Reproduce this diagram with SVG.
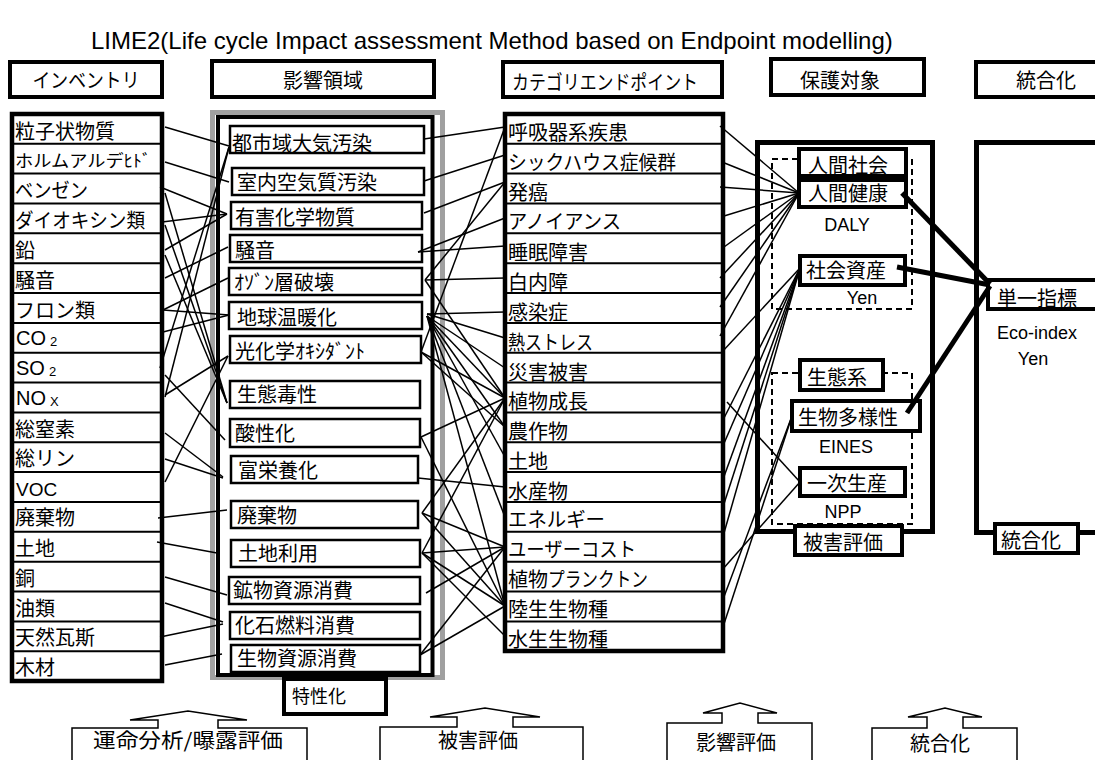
<svg xmlns="http://www.w3.org/2000/svg" width="1095" height="760" viewBox="0 0 1095 760">
  <style>
    text { font-family: "Noto Sans CJK JP", "Liberation Sans", sans-serif; font-size: 20px; fill: #000; }
    .lat { font-family: "Liberation Sans", Arial, sans-serif; }
    .title { font-size: 24px; }
    .s17 { font-size: 17px; }
    .s18 { font-size: 18px; }
    .s19 { font-size: 19px; }
    .hdr { fill: #fff; stroke: #000; stroke-width: 4; }
    .col { fill: #fff; stroke: #000; stroke-width: 4.5; }
    .row { stroke: #000; stroke-width: 2; }
    .ibox { fill: #fff; stroke: #000; stroke-width: 2.5; }
    .pbox { fill: #fff; stroke: #000; stroke-width: 4; }
    .dash { fill: none; stroke: #000; stroke-width: 2; stroke-dasharray: 6 4; }
    .mid { text-anchor: middle; }
    #connectors path { fill: none; stroke: #000; stroke-width: 1.5; }
    #connectors .thick { stroke-width: 5; }
    .flow { fill: #fff; stroke: #000; stroke-width: 1.5; }
  </style>

  <rect width="1095" height="760" fill="#fff"/>

  <text class="lat title" x="91" y="49">LIME2(Life cycle Impact assessment Method based on Endpoint modelling)</text>

  <!-- column headers -->
  <g id="hdr-inventory">
    <rect class="hdr" x="10" y="62" width="152" height="35"/>
    <text class="mid" x="86" y="88" textLength="107" lengthAdjust="spacingAndGlyphs">インベントリ</text>
  </g>
  <g id="hdr-impact">
    <rect class="hdr" x="212" y="61" width="222" height="36"/>
    <text class="mid" x="323" y="88">影響領域</text>
  </g>
  <g id="hdr-endpoint">
    <rect class="hdr" x="503" y="62" width="219" height="35"/>
    <text class="mid" x="605" y="90" textLength="186" lengthAdjust="spacingAndGlyphs">カテゴリエンドポイント</text>
  </g>
  <g id="hdr-safeguard">
    <rect class="hdr" x="771" y="59" width="153" height="36"/>
    <text class="mid" x="840" y="88">保護対象</text>
  </g>
  <g id="hdr-integration">
    <rect class="hdr" x="976" y="62" width="125" height="35"/>
    <text class="mid" x="1046" y="88">統合化</text>
  </g>

  <!-- inventory list -->
  <g id="inventory">
    <rect class="col" x="12" y="114" width="150" height="567"/>
    <path class="row" d="M12,143.8H162M12,173.6H162M12,203.5H162M12,233.3H162M12,263.2H162M12,293H162M12,322.9H162M12,352.7H162M12,382.6H162M12,412.4H162M12,442.3H162M12,472.1H162M12,502H162M12,531.8H162M12,561.7H162M12,591.5H162M12,621.4H162M12,651.2H162"/>
    <text x="15" y="138.5">粒子状物質</text>
    <text class="s17" x="15" y="167" textLength="136" lengthAdjust="spacingAndGlyphs">ホルムアルデﾋﾄﾞ</text>
    <text x="15" y="198" textLength="73" lengthAdjust="spacingAndGlyphs">ベンゼン</text>
    <text x="15" y="228" textLength="130" lengthAdjust="spacingAndGlyphs">ダイオキシン類</text>
    <text x="15" y="257.5">鉛</text>
    <text x="15" y="287.5">騒音</text>
    <text x="15" y="317.5">フロン類</text>
    <text class="lat" x="16" y="345">CO<tspan dx="4" dy="1" font-size="13">2</tspan></text>
    <text class="lat" x="16" y="375">SO<tspan dx="4" dy="1" font-size="13">2</tspan></text>
    <text class="lat" x="16" y="405">NO<tspan dx="4" dy="1" font-size="13">X</tspan></text>
    <text x="15" y="436.5">総窒素</text>
    <text x="15" y="466">総リン</text>
    <text class="lat s19" x="16" y="496">VOC</text>
    <text x="15" y="525">廃棄物</text>
    <text x="15" y="556">土地</text>
    <text x="15" y="586">銅</text>
    <text x="15" y="615.5">油類</text>
    <text x="15" y="645">天然瓦斯</text>
    <text x="15" y="675">木材</text>
  </g>

  <!-- impact categories -->
  <g id="impact">
    <rect x="212.5" y="112.5" width="230" height="565" fill="none" stroke="#a0a0a0" stroke-width="5"/>
    <rect x="218" y="117" width="214.5" height="558" fill="none" stroke="#000" stroke-width="4"/>
    <g id="imp-urban"><rect class="ibox" x="230" y="126" width="194" height="27"/><text x="232" y="151">都市域大気汚染</text></g>
    <g id="imp-indoor"><rect class="ibox" x="232" y="168" width="192" height="27"/><text x="237" y="190">室内空気質汚染</text></g>
    <g id="imp-toxic"><rect class="ibox" x="231" y="202" width="191" height="27"/><text x="235" y="225">有害化学物質</text></g>
    <g id="imp-noise"><rect class="ibox" x="230" y="235" width="192" height="27"/><text x="235" y="258">騒音</text></g>
    <g id="imp-ozone"><rect class="ibox" x="229" y="268" width="193" height="27"/><text x="234" y="290">ｵｿﾞﾝ層破壊</text></g>
    <g id="imp-warming"><rect class="ibox" x="229" y="302" width="193" height="27"/><text x="237" y="325">地球温暖化</text></g>
    <g id="imp-oxidant"><rect class="ibox" x="230" y="336" width="191" height="27"/><text x="235" y="359">光化学ｵｷｼﾀﾞﾝﾄ</text></g>
    <g id="imp-ecotox"><rect class="ibox" x="230" y="381" width="190" height="27"/><text x="237" y="402">生態毒性</text></g>
    <g id="imp-acid"><rect class="ibox" x="230" y="419" width="190" height="28"/><text x="235" y="441">酸性化</text></g>
    <g id="imp-eutro"><rect class="ibox" x="231" y="456" width="187" height="27"/><text x="238" y="478">富栄養化</text></g>
    <g id="imp-waste"><rect class="ibox" x="231" y="501" width="187" height="27"/><text x="237" y="523">廃棄物</text></g>
    <g id="imp-land"><rect class="ibox" x="231" y="540" width="189" height="27"/><text x="238" y="561">土地利用</text></g>
    <g id="imp-mineral"><rect class="ibox" x="229" y="577" width="191" height="27"/><text x="233" y="598">鉱物資源消費</text></g>
    <g id="imp-fossil"><rect class="ibox" x="230" y="612" width="190" height="27"/><text x="235" y="633">化石燃料消費</text></g>
    <g id="imp-biotic"><rect class="ibox" x="231" y="645" width="189" height="27"/><text x="237" y="666">生物資源消費</text></g>
  </g>

  <g id="characterization">
    <rect class="pbox" x="284" y="679" width="102" height="35"/>
    <text class="s18" x="292" y="703">特性化</text>
  </g>

  <!-- category endpoints -->
  <g id="endpoint">
    <rect class="col" x="505" y="114" width="218" height="537"/>
    <path class="row" d="M505,143.8H723M505,173.6H723M505,203.5H723M505,233.3H723M505,263.2H723M505,293H723M505,322.9H723M505,352.7H723M505,382.6H723M505,412.4H723M505,442.3H723M505,472.1H723M505,502H723M505,531.8H723M505,561.7H723M505,591.5H723M505,621.4H723"/>
    <text x="508" y="140">呼吸器系疾患</text>
    <text x="508" y="170" textLength="168" lengthAdjust="spacingAndGlyphs">シックハウス症候群</text>
    <text x="508" y="200">発癌</text>
    <text x="508" y="229" textLength="113" lengthAdjust="spacingAndGlyphs">アノイアンス</text>
    <text x="508" y="260">睡眠障害</text>
    <text x="508" y="290">白内障</text>
    <text x="508" y="320">感染症</text>
    <text x="508" y="350" textLength="85" lengthAdjust="spacingAndGlyphs">熱ストレス</text>
    <text x="508" y="380">災害被害</text>
    <text x="508" y="409">植物成長</text>
    <text x="508" y="439">農作物</text>
    <text x="508" y="469">土地</text>
    <text x="508" y="499">水産物</text>
    <text x="508" y="527" textLength="97" lengthAdjust="spacingAndGlyphs">エネルギー</text>
    <text x="508" y="557" textLength="128" lengthAdjust="spacingAndGlyphs">ユーザーコスト</text>
    <text x="508" y="587">植物<tspan textLength="100" lengthAdjust="spacingAndGlyphs">プランクトン</tspan></text>
    <text x="508" y="617">陸生生物種</text>
    <text x="508" y="647">水生生物種</text>
  </g>

  <!-- safeguard subjects -->
  <g id="safeguard">
    <rect x="757.5" y="142.5" width="175" height="389" fill="none" stroke="#000" stroke-width="5"/>
    <rect class="dash" x="772" y="159" width="140" height="150"/>
    <rect class="dash" x="772" y="373" width="140" height="151"/>
  </g>
  <g id="sg-society"><rect class="pbox" x="799" y="149" width="107" height="27"/><text x="808" y="173">人間社会</text></g>
  <g id="sg-health"><rect class="pbox" x="799" y="180" width="107" height="27"/><text x="808" y="201">人間健康</text><text class="lat mid s18" x="847" y="231">DALY</text></g>
  <g id="sg-assets"><rect class="pbox" x="800" y="256" width="105" height="29"/><text x="806" y="278">社会資産</text><text class="lat mid s18" x="862" y="304">Yen</text></g>
  <g id="sg-eco"><rect class="pbox" x="800" y="360" width="83" height="30"/><text x="807" y="385">生態系</text></g>
  <g id="sg-bio"><rect class="pbox" x="792" y="401" width="128" height="30"/><text x="798" y="425">生物多様性</text><text class="lat mid s18" x="846" y="453">EINES</text></g>
  <g id="sg-npp"><rect class="pbox" x="800" y="468" width="105" height="28"/><text x="807" y="491">一次生産</text><text class="lat mid s18" x="843" y="518">NPP</text></g>
  <g id="sg-damage"><rect class="pbox" x="795" y="526" width="107" height="29"/><text x="803" y="550">被害評価</text></g>

  <!-- integration -->
  <g id="integration">
    <rect x="976.5" y="142.5" width="130" height="390" fill="none" stroke="#000" stroke-width="5"/>
  </g>
  <g id="int-single"><rect class="pbox" x="988" y="280" width="110" height="29"/><text x="997" y="306">単一指標</text><text class="lat mid s18" x="1037" y="339">Eco-index</text><text class="lat mid s18" x="1033" y="365">Yen</text></g>
  <g id="int-label"><rect class="pbox" x="995" y="524" width="83" height="29"/><text x="1001" y="548">統合化</text></g>

  <!-- connectors -->
  <g id="connectors">
    <!-- inventory to impact categories -->
    <path d="M165,127L229,146"/>
    <path d="M165,162L229,182"/>
    <path d="M160,187L227,214"/>
    <path d="M162,222L227,214"/>
    <path d="M165,250L227,214"/>
    <path d="M165,278L228,247"/>
    <path d="M163,310L228,278"/>
    <path d="M163,310L229,315"/>
    <path d="M163,332L229,315"/>
    <path d="M160,368L229,147"/>
    <path d="M165,375L225,440"/>
    <path d="M165,397L229,147"/>
    <path d="M165,395L228,356"/>
    <path d="M165,433L223,477"/>
    <path d="M165,459L223,478"/>
    <path d="M165,482L228,356"/>
    <path d="M158,518L227,510"/>
    <path d="M157,542L217,553"/>
    <path d="M165,577L227,595"/>
    <path d="M165,603L223,622"/>
    <path d="M160,637L223,624"/>
    <path d="M165,665L222,654"/>
    <path d="M165,193L227,403"/>
    <path d="M165,225L227,403"/>
    <path d="M165,255L227,403"/>
    <!-- impact categories to endpoints -->
    <path d="M424,139L505,127"/>
    <path d="M421,352L505,127"/>
    <path d="M424,181L505,155"/>
    <path d="M424,213L505,182"/>
    <path d="M425,280L505,182"/>
    <path d="M418,252L505,218"/>
    <path d="M418,252L505,246"/>
    <path d="M425,280L505,278"/>
    <path d="M425,280L505,398"/>
    <path d="M427,314L505,312"/>
    <path d="M427,314L505,338"/>
    <path d="M427,316L505,368"/>
    <path d="M427,316L505,398"/>
    <path d="M427,316L505,427"/>
    <path d="M427,316L505,457"/>
    <path d="M427,316L505,517"/>
    <path d="M427,316L505,606"/>
    <path d="M421,352L505,398"/>
    <path d="M421,352L505,427"/>
    <path d="M421,437L505,398"/>
    <path d="M421,437L505,606"/>
    <path d="M418,478L505,487"/>
    <path d="M422,513L505,398"/>
    <path d="M422,513L505,547"/>
    <path d="M422,513L505,606"/>
    <path d="M422,553L505,398"/>
    <path d="M422,553L505,547"/>
    <path d="M422,553L505,606"/>
    <path d="M422,553L505,636"/>
    <path d="M426,593L505,547"/>
    <path d="M420,655L505,547"/>
    <path d="M420,655L505,606"/>
    <!-- endpoints to safeguard subjects -->
    <path d="M720,126L799,193"/>
    <path d="M722,162L799,193"/>
    <path d="M720,187L799,193"/>
    <path d="M724,216L799,193"/>
    <path d="M724,247L799,193"/>
    <path d="M720,278L799,193"/>
    <path d="M720,307L799,193"/>
    <path d="M720,336L799,193"/>
    <path d="M722,352L800,268"/>
    <path d="M722,422L800,268"/>
    <path d="M722,448L800,268"/>
    <path d="M722,482L800,268"/>
    <path d="M722,510L800,268"/>
    <path d="M722,540L800,268"/>
    <path d="M727,402L800,482"/>
    <path d="M722,570L800,482"/>
    <path d="M722,602L792,416"/>
    <path d="M723,627L792,416"/>
    <!-- safeguard subjects to single index -->
    <path class="thick" d="M902,193L990,284"/>
    <path class="thick" d="M897,267L990,285"/>
    <path class="thick" d="M907,413L990,286"/>
  </g>

  <!-- evaluation steps along the bottom -->
  <g id="step-fate">
    <path class="flow" d="M72,761V728H158V720H130L188,711L247,720H218V728H307V761"/>
    <text class="mid" x="188" y="748" textLength="190" lengthAdjust="spacingAndGlyphs">運命分析/曝露評価</text>
  </g>
  <g id="step-damage">
    <path class="flow" d="M380,761V727H457V717H430L485,708L540,717H513V727H583V761"/>
    <text class="mid" x="478" y="748">被害評価</text>
  </g>
  <g id="step-impact">
    <path class="flow" d="M667,761V723H722V713H703L740,703L777,713H758V723H812V761"/>
    <text class="mid" x="736" y="750">影響評価</text>
  </g>
  <g id="step-integration">
    <path class="flow" d="M872,761V728H927V717H908L945,708L982,717H963V728H1017V761"/>
    <text class="mid" x="940" y="751">統合化</text>
  </g>
</svg>
